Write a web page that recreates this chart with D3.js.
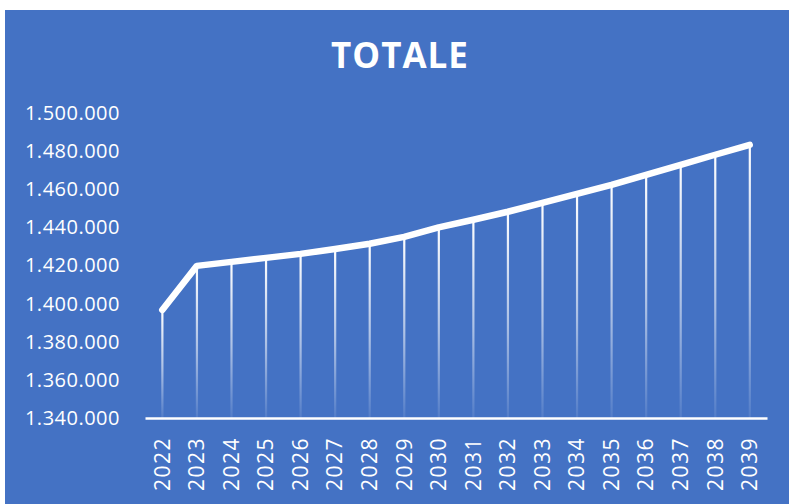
<!DOCTYPE html>
<html>
<head>
<meta charset="utf-8">
<script src="https://cdn.jsdelivr.net/npm/d3@7"></script>
<style>
  html, body { margin: 0; padding: 0; background: #fff; }
  svg { display: block; }
</style>
</head>
<body>
<div id="chart"></div>
<script>
// --- data ---
const years = ["2022","2023","2024","2025","2026","2027","2028","2029","2030",
               "2031","2032","2033","2034","2035","2036","2037","2038","2039"];
const totals = [1396700, 1419800, 1421900, 1424000, 1426100, 1428700, 1431400, 1435000, 1440000,
                1444000, 1448200, 1452900, 1457600, 1462300, 1467600, 1472800, 1478100, 1483300];
const yTicks = [1340000, 1360000, 1380000, 1400000, 1420000, 1440000, 1460000, 1480000, 1500000];

const W = 789, H = 504;
const blue = '#4472C4';
const margin = { top: 113, right: 22, bottom: 86, left: 145 };

const svg = d3.select('#chart').append('svg')
    .attr('width', W).attr('height', H);

// chart area background
svg.append('rect')
    .attr('x', 5).attr('y', 10)
    .attr('width', W - 5).attr('height', H - 10)
    .attr('fill', blue);

// gradient for drop lines (white fading out toward the axis)
const defs = svg.append('defs');
const grad = defs.append('linearGradient')
    .attr('id', 'dropGrad')
    .attr('x1', 0).attr('y1', 0).attr('x2', 0).attr('y2', 1);
grad.append('stop').attr('offset', '0%').attr('stop-color', '#fff').attr('stop-opacity', 1);
grad.append('stop').attr('offset', '55%').attr('stop-color', '#fff').attr('stop-opacity', 0.55);
grad.append('stop').attr('offset', '100%').attr('stop-color', '#fff').attr('stop-opacity', 0.08);

const x = d3.scaleBand()
    .domain(years)
    .range([margin.left, W - margin.right]);

const y = d3.scaleLinear()
    .domain([1340000, 1500000])
    .range([H - margin.bottom, margin.top]);

const fmt = v => d3.format(',')(v).replace(/,/g, '.');

// title
svg.append('text')
    .attr('x', 400).attr('y', 68)
    .attr('text-anchor', 'middle')
    .attr('font-family', '"Open Sans", sans-serif')
    .attr('font-weight', 700)
    .attr('font-size', 35)
    .attr('letter-spacing', 1)
    .attr('fill', '#fff')
    .text('TOTALE');

// y axis labels
const yAxis = svg.append('g')
    .attr('transform', `translate(${margin.left - 25},0)`)
    .call(d3.axisLeft(y).tickValues(yTicks).tickFormat(fmt).tickSize(0).tickPadding(0));
yAxis.select('.domain').remove();
yAxis.selectAll('text')
    .attr('fill', '#fff')
    .attr('font-family', '"Open Sans", sans-serif')
    .attr('font-size', 20)
    .attr('letter-spacing', 0.5);

// drop lines
const pts = years.map((yr, i) => ({ yr, v: totals[i] }));
svg.append('g').selectAll('rect')
    .data(pts)
    .join('rect')
    .attr('x', d => x(d.yr) + x.bandwidth() / 2 - 1)
    .attr('y', d => y(d.v))
    .attr('width', 2.2)
    .attr('height', d => y(1340000) - y(d.v))
    .attr('fill', 'url(#dropGrad)');

// x axis
const xAxis = svg.append('g')
    .attr('transform', `translate(0,${y(1340000)})`)
    .call(d3.axisBottom(x).tickSize(0).tickPadding(0));
xAxis.select('.domain')
    .attr('stroke', '#fff')
    .attr('stroke-width', 2.5);
xAxis.selectAll('text')
    .attr('fill', '#fff')
    .attr('font-family', '"Open Sans", sans-serif')
    .attr('font-size', 21)
    .attr('letter-spacing', 1.5)
    .attr('text-anchor', 'end')
    .attr('dy', '0.35em')
    .attr('transform', 'translate(0,19) rotate(-90)');

// main line
const line = d3.line()
    .x(d => x(d.yr) + x.bandwidth() / 2)
    .y(d => y(d.v));
svg.append('path')
    .datum(pts)
    .attr('d', line)
    .attr('fill', 'none')
    .attr('stroke', '#fff')
    .attr('stroke-width', 6.5)
    .attr('stroke-linejoin', 'round')
    .attr('stroke-linecap', 'round');
</script>
</body>
</html>
